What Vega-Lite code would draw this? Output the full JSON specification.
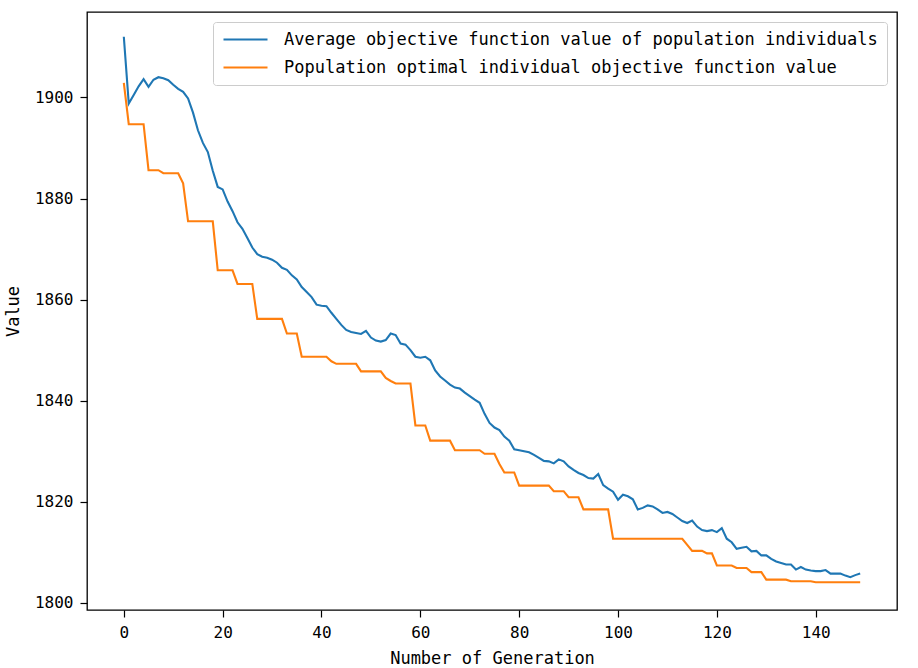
{
  "$schema": "https://vega.github.io/schema/vega-lite/v6.json",
  "width": 810,
  "height": 598,
  "autosize": {"type": "none"},
  "padding": {"left": 87, "top": 12, "right": 21, "bottom": 58},
  "background": "white",
  "config": {
    "view": {"stroke": "black", "strokeWidth": 1.3},
    "axis": {
      "grid": false,
      "domain": false,
      "tickColor": "black",
      "tickSize": 7,
      "tickWidth": 1.2,
      "labelFont": "DejaVu Sans Mono",
      "labelFontSize": 16,
      "labelColor": "black",
      "titleFont": "DejaVu Sans Mono",
      "titleFontSize": 17,
      "titleFontWeight": "normal",
      "titleColor": "black",
      "labelPadding": 7
    },
    "legend": {
      "orient": "top-right",
      "offset": 10,
      "strokeColor": "#cccccc",
      "fillColor": "white",
      "cornerRadius": 3,
      "padding": 9,
      "symbolType": "M-4,0H4",
      "symbolStrokeWidth": 2,
      "symbolSize": 121,
      "symbolOffset": 15,
      "labelFont": "DejaVu Sans Mono",
      "labelFontSize": 17,
      "labelColor": "black",
      "labelOffset": 30,
      "labelLimit": 1000,
      "rowPadding": 10
    }
  },
  "data": {"values": [
    {"g":0,"s":"A","v":1912.0},{"g":1,"s":"A","v":1898.8},{"g":2,"s":"A","v":1900.5},{"g":3,"s":"A","v":1902.2},{"g":4,"s":"A","v":1903.6},{"g":5,"s":"A","v":1902.1},{"g":6,"s":"A","v":1903.5},{"g":7,"s":"A","v":1904.0},{"g":8,"s":"A","v":1903.8},{"g":9,"s":"A","v":1903.4},
    {"g":10,"s":"A","v":1902.5},{"g":11,"s":"A","v":1901.7},{"g":12,"s":"A","v":1901.1},{"g":13,"s":"A","v":1899.8},{"g":14,"s":"A","v":1897.0},{"g":15,"s":"A","v":1893.5},{"g":16,"s":"A","v":1891.0},{"g":17,"s":"A","v":1889.2},{"g":18,"s":"A","v":1885.5},{"g":19,"s":"A","v":1882.3},
    {"g":20,"s":"A","v":1881.8},{"g":21,"s":"A","v":1879.4},{"g":22,"s":"A","v":1877.5},{"g":23,"s":"A","v":1875.3},{"g":24,"s":"A","v":1874.0},{"g":25,"s":"A","v":1872.2},{"g":26,"s":"A","v":1870.3},{"g":27,"s":"A","v":1869.0},{"g":28,"s":"A","v":1868.5},{"g":29,"s":"A","v":1868.3},
    {"g":30,"s":"A","v":1867.9},{"g":31,"s":"A","v":1867.3},{"g":32,"s":"A","v":1866.3},{"g":33,"s":"A","v":1865.9},{"g":34,"s":"A","v":1864.8},{"g":35,"s":"A","v":1864.0},{"g":36,"s":"A","v":1862.5},{"g":37,"s":"A","v":1861.5},{"g":38,"s":"A","v":1860.5},{"g":39,"s":"A","v":1859.0},
    {"g":40,"s":"A","v":1858.8},{"g":41,"s":"A","v":1858.7},{"g":42,"s":"A","v":1857.4},{"g":43,"s":"A","v":1856.2},{"g":44,"s":"A","v":1855.0},{"g":45,"s":"A","v":1854.0},{"g":46,"s":"A","v":1853.6},{"g":47,"s":"A","v":1853.4},{"g":48,"s":"A","v":1853.2},{"g":49,"s":"A","v":1853.8},
    {"g":50,"s":"A","v":1852.5},{"g":51,"s":"A","v":1851.9},{"g":52,"s":"A","v":1851.7},{"g":53,"s":"A","v":1852.0},{"g":54,"s":"A","v":1853.3},{"g":55,"s":"A","v":1853.0},{"g":56,"s":"A","v":1851.3},{"g":57,"s":"A","v":1851.1},{"g":58,"s":"A","v":1850.0},{"g":59,"s":"A","v":1848.7},
    {"g":60,"s":"A","v":1848.5},{"g":61,"s":"A","v":1848.7},{"g":62,"s":"A","v":1848.0},{"g":63,"s":"A","v":1846.0},{"g":64,"s":"A","v":1844.8},{"g":65,"s":"A","v":1844.0},{"g":66,"s":"A","v":1843.2},{"g":67,"s":"A","v":1842.6},{"g":68,"s":"A","v":1842.4},{"g":69,"s":"A","v":1841.6},
    {"g":70,"s":"A","v":1840.9},{"g":71,"s":"A","v":1840.2},{"g":72,"s":"A","v":1839.6},{"g":73,"s":"A","v":1837.4},{"g":74,"s":"A","v":1835.6},{"g":75,"s":"A","v":1834.7},{"g":76,"s":"A","v":1834.2},{"g":77,"s":"A","v":1832.9},{"g":78,"s":"A","v":1832.1},{"g":79,"s":"A","v":1830.4},
    {"g":80,"s":"A","v":1830.2},{"g":81,"s":"A","v":1830.0},{"g":82,"s":"A","v":1829.8},{"g":83,"s":"A","v":1829.3},{"g":84,"s":"A","v":1828.7},{"g":85,"s":"A","v":1828.1},{"g":86,"s":"A","v":1828.0},{"g":87,"s":"A","v":1827.6},{"g":88,"s":"A","v":1828.4},{"g":89,"s":"A","v":1828.0},
    {"g":90,"s":"A","v":1827.0},{"g":91,"s":"A","v":1826.3},{"g":92,"s":"A","v":1825.7},{"g":93,"s":"A","v":1825.3},{"g":94,"s":"A","v":1824.7},{"g":95,"s":"A","v":1824.6},{"g":96,"s":"A","v":1825.5},{"g":97,"s":"A","v":1823.3},{"g":98,"s":"A","v":1822.6},{"g":99,"s":"A","v":1822.0},
    {"g":100,"s":"A","v":1820.4},{"g":101,"s":"A","v":1821.4},{"g":102,"s":"A","v":1821.1},{"g":103,"s":"A","v":1820.5},{"g":104,"s":"A","v":1818.5},{"g":105,"s":"A","v":1818.8},{"g":106,"s":"A","v":1819.3},{"g":107,"s":"A","v":1819.1},{"g":108,"s":"A","v":1818.5},{"g":109,"s":"A","v":1817.8},
    {"g":110,"s":"A","v":1818.0},{"g":111,"s":"A","v":1817.6},{"g":112,"s":"A","v":1816.9},{"g":113,"s":"A","v":1816.2},{"g":114,"s":"A","v":1815.8},{"g":115,"s":"A","v":1816.3},{"g":116,"s":"A","v":1815.1},{"g":117,"s":"A","v":1814.4},{"g":118,"s":"A","v":1814.2},{"g":119,"s":"A","v":1814.4},
    {"g":120,"s":"A","v":1814.0},{"g":121,"s":"A","v":1814.8},{"g":122,"s":"A","v":1812.7},{"g":123,"s":"A","v":1812.0},{"g":124,"s":"A","v":1810.7},{"g":125,"s":"A","v":1810.9},{"g":126,"s":"A","v":1811.1},{"g":127,"s":"A","v":1810.2},{"g":128,"s":"A","v":1810.3},{"g":129,"s":"A","v":1809.4},
    {"g":130,"s":"A","v":1809.4},{"g":131,"s":"A","v":1808.7},{"g":132,"s":"A","v":1808.2},{"g":133,"s":"A","v":1807.9},{"g":134,"s":"A","v":1807.6},{"g":135,"s":"A","v":1807.6},{"g":136,"s":"A","v":1806.6},{"g":137,"s":"A","v":1807.1},{"g":138,"s":"A","v":1806.6},{"g":139,"s":"A","v":1806.4},
    {"g":140,"s":"A","v":1806.3},{"g":141,"s":"A","v":1806.3},{"g":142,"s":"A","v":1806.5},{"g":143,"s":"A","v":1805.8},{"g":144,"s":"A","v":1805.8},{"g":145,"s":"A","v":1805.8},{"g":146,"s":"A","v":1805.4},{"g":147,"s":"A","v":1805.1},{"g":148,"s":"A","v":1805.5},{"g":149,"s":"A","v":1805.8},
    {"g":0,"s":"B","v":1902.9},{"g":1,"s":"B","v":1894.7},{"g":2,"s":"B","v":1894.7},{"g":3,"s":"B","v":1894.7},{"g":4,"s":"B","v":1894.7},{"g":5,"s":"B","v":1885.6},{"g":6,"s":"B","v":1885.6},{"g":7,"s":"B","v":1885.6},{"g":8,"s":"B","v":1885.0},{"g":9,"s":"B","v":1885.0},
    {"g":10,"s":"B","v":1885.0},{"g":11,"s":"B","v":1885.0},{"g":12,"s":"B","v":1883.0},{"g":13,"s":"B","v":1875.5},{"g":14,"s":"B","v":1875.5},{"g":15,"s":"B","v":1875.5},{"g":16,"s":"B","v":1875.5},{"g":17,"s":"B","v":1875.5},{"g":18,"s":"B","v":1875.5},{"g":19,"s":"B","v":1865.8},
    {"g":20,"s":"B","v":1865.8},{"g":21,"s":"B","v":1865.8},{"g":22,"s":"B","v":1865.8},{"g":23,"s":"B","v":1863.1},{"g":24,"s":"B","v":1863.1},{"g":25,"s":"B","v":1863.1},{"g":26,"s":"B","v":1863.1},{"g":27,"s":"B","v":1856.2},{"g":28,"s":"B","v":1856.2},{"g":29,"s":"B","v":1856.2},
    {"g":30,"s":"B","v":1856.2},{"g":31,"s":"B","v":1856.2},{"g":32,"s":"B","v":1856.2},{"g":33,"s":"B","v":1853.3},{"g":34,"s":"B","v":1853.3},{"g":35,"s":"B","v":1853.3},{"g":36,"s":"B","v":1848.7},{"g":37,"s":"B","v":1848.7},{"g":38,"s":"B","v":1848.7},{"g":39,"s":"B","v":1848.7},
    {"g":40,"s":"B","v":1848.7},{"g":41,"s":"B","v":1848.7},{"g":42,"s":"B","v":1847.8},{"g":43,"s":"B","v":1847.3},{"g":44,"s":"B","v":1847.3},{"g":45,"s":"B","v":1847.3},{"g":46,"s":"B","v":1847.3},{"g":47,"s":"B","v":1847.3},{"g":48,"s":"B","v":1845.8},{"g":49,"s":"B","v":1845.8},
    {"g":50,"s":"B","v":1845.8},{"g":51,"s":"B","v":1845.8},{"g":52,"s":"B","v":1845.8},{"g":53,"s":"B","v":1844.5},{"g":54,"s":"B","v":1843.9},{"g":55,"s":"B","v":1843.4},{"g":56,"s":"B","v":1843.4},{"g":57,"s":"B","v":1843.4},{"g":58,"s":"B","v":1843.4},{"g":59,"s":"B","v":1835.1},
    {"g":60,"s":"B","v":1835.1},{"g":61,"s":"B","v":1835.1},{"g":62,"s":"B","v":1832.1},{"g":63,"s":"B","v":1832.1},{"g":64,"s":"B","v":1832.1},{"g":65,"s":"B","v":1832.1},{"g":66,"s":"B","v":1832.1},{"g":67,"s":"B","v":1830.2},{"g":68,"s":"B","v":1830.2},{"g":69,"s":"B","v":1830.2},
    {"g":70,"s":"B","v":1830.2},{"g":71,"s":"B","v":1830.2},{"g":72,"s":"B","v":1830.2},{"g":73,"s":"B","v":1829.5},{"g":74,"s":"B","v":1829.5},{"g":75,"s":"B","v":1829.5},{"g":76,"s":"B","v":1827.5},{"g":77,"s":"B","v":1825.8},{"g":78,"s":"B","v":1825.8},{"g":79,"s":"B","v":1825.8},
    {"g":80,"s":"B","v":1823.2},{"g":81,"s":"B","v":1823.2},{"g":82,"s":"B","v":1823.2},{"g":83,"s":"B","v":1823.2},{"g":84,"s":"B","v":1823.2},{"g":85,"s":"B","v":1823.2},{"g":86,"s":"B","v":1823.2},{"g":87,"s":"B","v":1822.1},{"g":88,"s":"B","v":1822.1},{"g":89,"s":"B","v":1822.1},
    {"g":90,"s":"B","v":1820.9},{"g":91,"s":"B","v":1820.9},{"g":92,"s":"B","v":1820.9},{"g":93,"s":"B","v":1818.5},{"g":94,"s":"B","v":1818.5},{"g":95,"s":"B","v":1818.5},{"g":96,"s":"B","v":1818.5},{"g":97,"s":"B","v":1818.5},{"g":98,"s":"B","v":1818.5},{"g":99,"s":"B","v":1812.7},
    {"g":100,"s":"B","v":1812.7},{"g":101,"s":"B","v":1812.7},{"g":102,"s":"B","v":1812.7},{"g":103,"s":"B","v":1812.7},{"g":104,"s":"B","v":1812.7},{"g":105,"s":"B","v":1812.7},{"g":106,"s":"B","v":1812.7},{"g":107,"s":"B","v":1812.7},{"g":108,"s":"B","v":1812.7},{"g":109,"s":"B","v":1812.7},
    {"g":110,"s":"B","v":1812.7},{"g":111,"s":"B","v":1812.7},{"g":112,"s":"B","v":1812.7},{"g":113,"s":"B","v":1812.7},{"g":114,"s":"B","v":1811.5},{"g":115,"s":"B","v":1810.3},{"g":116,"s":"B","v":1810.3},{"g":117,"s":"B","v":1810.3},{"g":118,"s":"B","v":1809.8},{"g":119,"s":"B","v":1809.8},
    {"g":120,"s":"B","v":1807.4},{"g":121,"s":"B","v":1807.4},{"g":122,"s":"B","v":1807.4},{"g":123,"s":"B","v":1807.4},{"g":124,"s":"B","v":1806.9},{"g":125,"s":"B","v":1806.9},{"g":126,"s":"B","v":1806.9},{"g":127,"s":"B","v":1806.1},{"g":128,"s":"B","v":1806.1},{"g":129,"s":"B","v":1806.1},
    {"g":130,"s":"B","v":1804.6},{"g":131,"s":"B","v":1804.6},{"g":132,"s":"B","v":1804.6},{"g":133,"s":"B","v":1804.6},{"g":134,"s":"B","v":1804.6},{"g":135,"s":"B","v":1804.3},{"g":136,"s":"B","v":1804.3},{"g":137,"s":"B","v":1804.3},{"g":138,"s":"B","v":1804.3},{"g":139,"s":"B","v":1804.3},
    {"g":140,"s":"B","v":1804.1},{"g":141,"s":"B","v":1804.1},{"g":142,"s":"B","v":1804.1},{"g":143,"s":"B","v":1804.1},{"g":144,"s":"B","v":1804.1},{"g":145,"s":"B","v":1804.1},{"g":146,"s":"B","v":1804.1},{"g":147,"s":"B","v":1804.1},{"g":148,"s":"B","v":1804.1},{"g":149,"s":"B","v":1804.1}
  ]},
  "mark": {"type": "line", "strokeWidth": 2.1, "clip": true},
  "encoding": {
    "x": {
      "field": "g", "type": "quantitative",
      "scale": {"domain": [-7.45, 156.45], "nice": false, "zero": false},
      "axis": {"values": [0, 20, 40, 60, 80, 100, 120, 140], "title": "Number of Generation", "titlePadding": 10, "format": "d"}
    },
    "y": {
      "field": "v", "type": "quantitative",
      "scale": {"domain": [1798.6, 1916.9], "nice": false, "zero": false},
      "axis": {"values": [1800, 1820, 1840, 1860, 1880, 1900], "title": "Value", "titlePadding": 12, "format": "d"}
    },
    "color": {
      "field": "s", "type": "nominal",
      "scale": {"domain": ["A", "B"], "range": ["#1f77b4", "#ff7f0e"]},
      "legend": {
        "title": null,
        "labelExpr": "datum.label == 'A' ? 'Average objective function value of population individuals' : 'Population optimal individual objective function value'"
      }
    }
  }
}
